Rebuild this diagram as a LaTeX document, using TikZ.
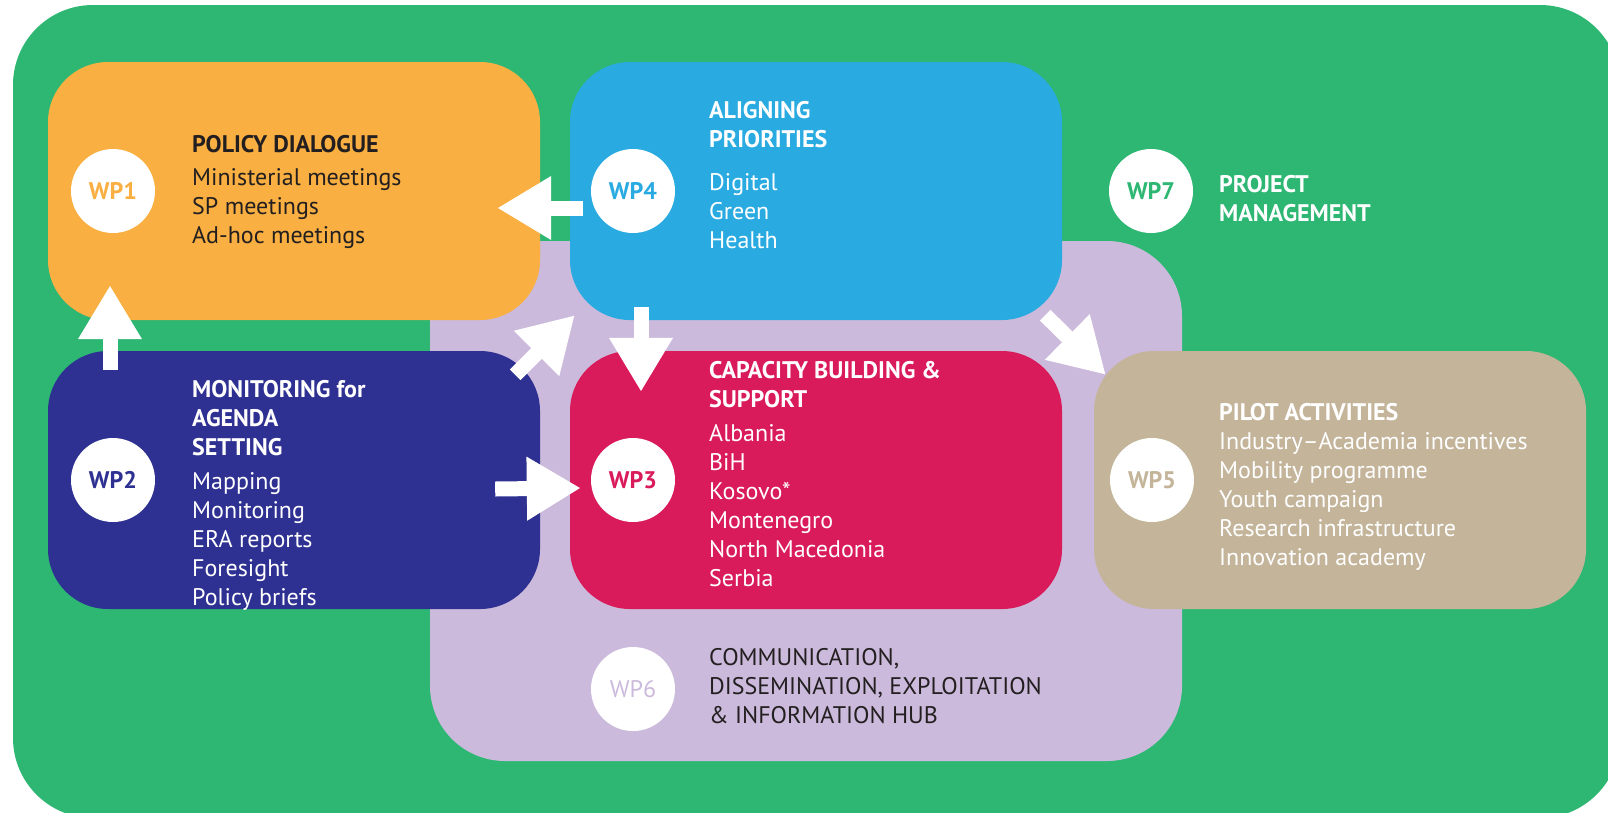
\documentclass[tikz,border=0pt]{standalone}
\usepackage{fontspec}
\setmainfont{PT Sans}
\usetikzlibrary{arrows.meta,calc}

\definecolor{bggreen}{HTML}{2DB773}
\definecolor{wporange}{HTML}{F9AF41}
\definecolor{wpblue}{HTML}{29AAE1}
\definecolor{lilac}{HTML}{CBBADB}
\definecolor{wpnavy}{HTML}{2E3192}
\definecolor{wpred}{HTML}{DA1B5B}
\definecolor{wptan}{HTML}{C3B49A}
\definecolor{ink}{HTML}{231F20}

\tikzset{
  wpbox/.style={rectangle, rounded corners=60pt, minimum width=492pt, minimum height=258pt, inner sep=0pt},
  wpdot/.style={circle, fill=white, minimum size=84pt, inner sep=0pt, font=\bfseries\fontsize{24}{29}\selectfont},
  wptext/.style={anchor=north west, align=left, inner sep=0pt, font=\fontsize{24}{29}\selectfont},
  flow/.style={white, line width=15pt, -{Triangle[width=60pt,length=54pt]}},
}

\begin{document}
\begin{tikzpicture}[x=1pt, y=-1pt]
  \useasboundingbox (0,0) rectangle (1608,812);
  \clip (0,0) rectangle (1608,812);
  \fill[bggreen, rounded corners=80pt] (13,5) rectangle (1620,818);

  % work package boxes
  \node[wpbox, fill=lilac, minimum width=752pt, minimum height=520pt, rounded corners=75pt] (hub) at (806,501) {};
  \node[wpbox, fill=wporange] (pd) at (294,191) {};
  \node[wpbox, fill=wpblue] (al) at (816,191) {};
  \node[wpbox, fill=wpnavy] (mon) at (294,480) {};
  \node[wpbox, fill=wpred] (cb) at (816,480) {};
  \node[wpbox, fill=wptan] (pil) at (1340,480) {};

  \node[wpdot, text=wporange] (wp1) at (113,191) {WP1};
  \node[wpdot, text=wpblue] (wp4) at (633,191) {WP4};
  \node[wpdot, text=bggreen] (wp7) at (1151,191) {WP7};
  \node[wpdot, text=wpnavy] (wp2) at (113,480) {WP2};
  \node[wpdot, text=wpred] (wp3) at (633,480) {WP3};
  \node[wpdot, text=wptan] (wp5) at (1152,480) {WP5};
  \node[wpdot, text=lilac, font=\fontsize{24}{29}\selectfont] (wp6) at (633,689) {WP6};

  % arrows
  \draw[flow] ($(wp2 |- mon.north)+(-3,19)$) -- ($(wp2 |- pd.south)+(-3,-35)$);
  \draw[flow] ($(wp4.west)+(-8,17)$) -- ($(pd.east |- wp4)+(-43,17)$);
  \draw[flow] ($(mon.north east)+(-25,24)$) -- ($(al.south west)+(5,-5)$);
  \draw[flow] ($(wp4 |- al.south)+(8,-13)$) -- ($(wp4 |- cb.north)+(8,41)$);
  \draw[flow] ($(mon.east)+(-45,9)$) -- ($(wp3.west)+(-10,8)$);
  \draw[flow] ($(al.south east)+(-17,-5)$) -- ($(pil.north west)+(12,24)$);

  % texts
  \node[wptext, text=ink] (t1) at (192,135) {\textbf{POLICY DIALOGUE}\\[4pt] Ministerial meetings\\ SP meetings\\ Ad-hoc meetings};
  \node[wptext, text=white] (t4) at (709,101) {\textbf{ALIGNING}\\ \textbf{PRIORITIES}\\[14pt] Digital\\ Green\\ Health};
  \node[wptext, text=white] (t7) at (1219,175) {\textbf{PROJECT}\\ \textbf{MANAGEMENT}};
  \node[wptext, text=white] (t2) at (192,380) {\textbf{MONITORING for}\\ \textbf{AGENDA}\\ \textbf{SETTING}\\[5pt] Mapping\\ Monitoring\\ ERA reports\\ Foresight\\ Policy briefs};
  \node[wptext, text=white] (t3) at (709,361) {\textbf{CAPACITY BUILDING \&}\\ \textbf{SUPPORT}\\[5pt] Albania\\ BiH\\ Kosovo*\\ Montenegro\\ North Macedonia\\ Serbia};
  \node[wptext, text=white] (t5) at (1219,403) {\textbf{PILOT ACTIVITIES}\\ Industry--Academia incentives\\ Mobility programme\\ Youth campaign\\ Research infrastructure\\ Innovation academy};
  \node[wptext, text=ink] (t6) at (709,648) {COMMUNICATION,\\ DISSEMINATION, EXPLOITATION\\ \& INFORMATION HUB};
\end{tikzpicture}
\end{document}
